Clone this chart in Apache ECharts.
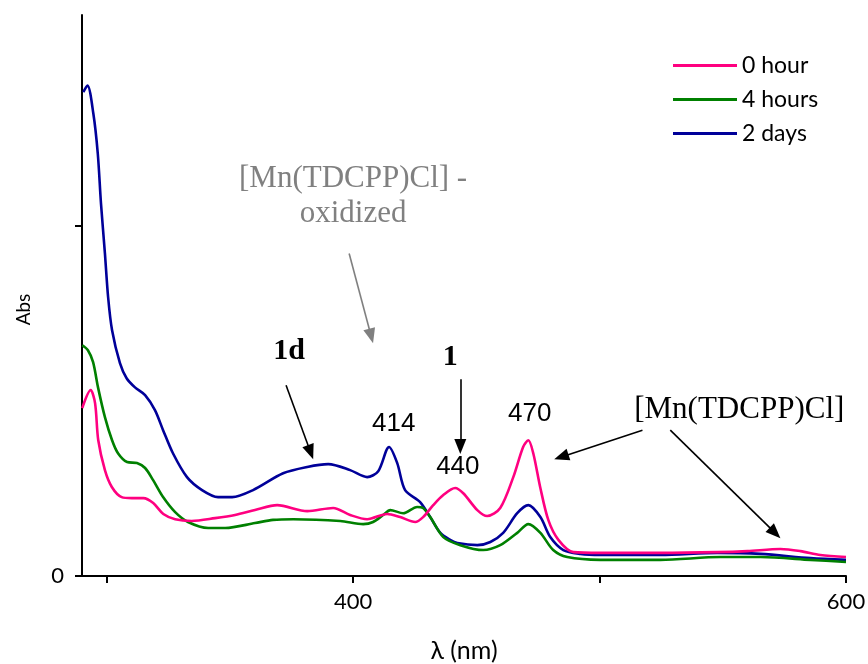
<!DOCTYPE html>
<html>
<head>
<meta charset="utf-8">
<script src="https://cdn.jsdelivr.net/npm/echarts@6/dist/echarts.min.js"></script>
<style>
  html, body { margin: 0; padding: 0; background: #fff; }
  #chart { width: 868px; height: 664px; }
</style>
</head>
<body>
<div id="chart"></div>
<script>
// UV-Vis spectra: wavelength (nm) and absorbance for each time point
const wl0h = [290.1, 293.5, 295.3, 296.6, 299.3, 302.1, 306.1, 310.2, 314.9, 318.9, 323.0, 327.8, 334.5, 344.0, 352.1, 360.2, 369.2, 381.4, 391.9, 398.8, 405.7, 413.8, 419.1, 425.2, 428.4, 432.5, 436.6, 441.4, 444.7, 450.4, 454.4, 459.7, 465.0, 469.0, 471.1, 473.1, 475.9, 479.2, 483.3, 489.4, 500.3, 524.7, 547.8, 560.0, 573.4, 581.5, 589.6, 600];
const abs0h = [0.479, 0.530, 0.493, 0.387, 0.302, 0.254, 0.225, 0.222, 0.222, 0.208, 0.177, 0.162, 0.157, 0.165, 0.174, 0.188, 0.202, 0.185, 0.194, 0.174, 0.162, 0.177, 0.168, 0.154, 0.168, 0.202, 0.231, 0.251, 0.236, 0.188, 0.171, 0.194, 0.282, 0.368, 0.387, 0.350, 0.254, 0.160, 0.103, 0.068, 0.066, 0.066, 0.068, 0.071, 0.077, 0.071, 0.060, 0.054];

const wl4h = [290.1, 292.4, 294.5, 296.5, 299.3, 302.2, 304.6, 308.3, 312.3, 315.6, 318.8, 322.9, 327.8, 333.0, 341.2, 348.1, 360.2, 367.5, 375.7, 394.8, 404.1, 408.1, 412.2, 415.1, 420.3, 426.0, 428.4, 431.3, 436.6, 443.5, 452.8, 459.7, 466.6, 471.1, 476.0, 481.2, 486.9, 500.3, 524.7, 549.0, 565.3, 585.6, 600];
const abs4h = [0.658, 0.644, 0.610, 0.538, 0.453, 0.387, 0.350, 0.325, 0.322, 0.308, 0.274, 0.225, 0.182, 0.154, 0.137, 0.137, 0.151, 0.160, 0.162, 0.157, 0.148, 0.154, 0.174, 0.188, 0.179, 0.197, 0.194, 0.168, 0.111, 0.088, 0.074, 0.088, 0.123, 0.148, 0.123, 0.074, 0.054, 0.046, 0.046, 0.054, 0.054, 0.046, 0.040];

const wl2d = [290.5, 292.2, 294.6, 296.4, 297.7, 299.3, 300.6, 302.2, 305.4, 308.1, 311.5, 315.6, 319.6, 322.9, 326.9, 332.6, 338.7, 345.2, 350.9, 359.4, 371.6, 381.4, 389.9, 398.8, 405.7, 410.2, 414.6, 417.9, 421.1, 427.2, 431.3, 435.4, 439.4, 442.3, 450.4, 455.7, 460.9, 466.6, 471.1, 476.0, 480.0, 485.3, 492.2, 500.3, 524.7, 547.8, 565.3, 585.6, 600];
const abs2d = [1.380, 1.399, 1.319, 1.205, 1.063, 0.920, 0.795, 0.701, 0.607, 0.564, 0.538, 0.516, 0.473, 0.416, 0.350, 0.282, 0.245, 0.225, 0.225, 0.245, 0.293, 0.311, 0.319, 0.302, 0.282, 0.299, 0.368, 0.322, 0.245, 0.211, 0.168, 0.123, 0.103, 0.094, 0.088, 0.097, 0.123, 0.179, 0.202, 0.168, 0.111, 0.074, 0.063, 0.060, 0.060, 0.066, 0.063, 0.051, 0.046];

const seriesNames = ['0 hour', '4 hours', '2 days'];
const seriesColors = ['#FF0080', '#008000', '#000099'];

// axis ticks and labels
const xTicks = [300, 400, 500, 600];
const xLabels = [400, 600];
const yTicks = [0, 1];
const yLabels = [0];

// annotation arrows: [tail, tip] in (nm, Abs)
const arrows = [
  { from: [398.4, 0.920], to: [408.1, 0.664], color: '#808080' },
  { from: [372.8, 0.544], to: [383.8, 0.333], color: '#000000' },
  { from: [443.5, 0.561], to: [443.5, 0.348], color: '#000000' },
  { from: [517.4, 0.416], to: [481.6, 0.333], color: '#000000' },
  { from: [528.7, 0.416], to: [573.4, 0.108], color: '#000000' }
];

// annotation texts anchored at (nm, Abs)
const notes = [
  { at: [400.0, 1.083], text: '[Mn(TDCPP)Cl] -\noxidized', font: 'Liberation Serif', size: 31, color: '#808080', weight: 'normal', lh: 35 },
  { at: [374.0, 0.641], text: '1d', font: 'Liberation Serif', size: 30, color: '#000', weight: 'bold' },
  { at: [439.4, 0.624], text: '1', font: 'Liberation Serif', size: 30, color: '#000', weight: 'bold' },
  { at: [416.5, 0.433], text: '414', font: 'Liberation Sans', size: 26, color: '#000', weight: 'normal' },
  { at: [442.5, 0.311], text: '440', font: 'Liberation Sans', size: 26, color: '#000', weight: 'normal' },
  { at: [471.7, 0.462], text: '470', font: 'Liberation Sans', size: 26, color: '#000', weight: 'normal' },
  { at: [556.7, 0.473], text: '[Mn(TDCPP)Cl]', font: 'Liberation Serif', size: 31, color: '#000', weight: 'normal' }
];

const ARROW_HEAD = [12, 15];

function pairs(xs, ys) {
  return xs.map((x, i) => [x, ys[i]]);
}

const spectra = [pairs(wl0h, abs0h), pairs(wl4h, abs4h), pairs(wl2d, abs2d)];

const chart = echarts.init(document.getElementById('chart'), null, { renderer: 'canvas' });

const lineSeries = spectra.map((d, i) => ({
  name: seriesNames[i],
  type: 'line',
  data: d,
  smooth: 0.3,
  symbol: 'none',
  lineStyle: { color: seriesColors[i], width: 2.6 },
  itemStyle: { color: seriesColors[i] },
  z: 3 - i
}));

function arrowLines(list) {
  return list.map(a => [
    { coord: a.from, lineStyle: { color: a.color, width: 1.6, type: 'solid' }, itemStyle: { color: a.color } },
    { coord: a.to }
  ]);
}

const annotationSeries = {
  name: 'annotations',
  type: 'line',
  data: [],
  symbol: 'none',
  silent: true,
  z: 5,
  markLine: {
    silent: true,
    symbol: ['none', 'triangle'],
    symbolSize: ARROW_HEAD,
    label: { show: false },
    data: arrowLines(arrows)
  },
  markPoint: {
    silent: true,
    symbol: 'circle',
    symbolSize: 0,
    itemStyle: { color: 'transparent' },
    data: notes.map(n => ({
      coord: n.at,
      value: 0,
      label: {
        show: true,
        position: 'inside',
        formatter: n.text,
        fontFamily: n.font,
        fontSize: n.size,
        fontWeight: n.weight,
        color: n.color,
        align: 'center',
        verticalAlign: 'middle',
        lineHeight: n.lh || n.size
      }
    }))
  }
};

chart.setOption({
  animation: false,
  backgroundColor: '#ffffff',
  grid: { left: 82, right: 22, top: 15, bottom: 88, containLabel: false, outerBoundsMode: 'none' },
  legend: {
    data: seriesNames,
    orient: 'vertical',
    left: 673,
    top: 54,
    padding: 0,
    icon: 'rect',
    itemWidth: 64,
    itemHeight: 3,
    itemGap: 11,
    textStyle: { fontFamily: 'Lato', fontSize: 23, color: '#000' },
    selectedMode: false
  },
  xAxis: {
    type: 'value',
    min: 290,
    max: 600,
    name: 'λ (nm)',
    nameLocation: 'middle',
    nameGap: 62,
    nameTextStyle: { fontFamily: 'Lato', fontSize: 25, color: '#000' },
    splitLine: { show: false },
    axisLine: { show: true, onZero: false, lineStyle: { color: '#000', width: 2 } },
    axisTick: { show: true, inside: false, length: 7, lineStyle: { color: '#000', width: 2 }, customValues: xTicks },
    axisLabel: { show: true, margin: 15, fontFamily: 'Lato', fontSize: 22, color: '#000', customValues: xLabels }
  },
  yAxis: {
    type: 'value',
    min: 0,
    max: 1.6,
    name: 'Abs',
    nameLocation: 'middle',
    nameRotate: 90,
    nameGap: 49,
    nameTextStyle: { fontFamily: 'Lato', fontSize: 19, color: '#000', padding: [0, 28, 0, 0] },
    splitLine: { show: false },
    axisLine: { show: true, onZero: false, lineStyle: { color: '#000', width: 2 } },
    axisTick: { show: true, inside: false, length: 7, lineStyle: { color: '#000', width: 2 }, customValues: yTicks },
    axisLabel: { show: true, margin: 18, fontFamily: 'Lato', fontSize: 22, color: '#000', customValues: yLabels }
  },
  series: lineSeries.concat([annotationSeries])
});

// Pull each arrow end back by half a head length so the triangle's point lands on the tip.
const finder = { xAxisIndex: 0, yAxisIndex: 0 };
const trimmed = arrows.map(a => {
  const p0 = chart.convertToPixel(finder, a.from);
  const p1 = chart.convertToPixel(finder, a.to);
  const dx = p1[0] - p0[0], dy = p1[1] - p0[1];
  const len = Math.hypot(dx, dy);
  const back = ARROW_HEAD[1] / 2;
  const end = [p1[0] - dx / len * back, p1[1] - dy / len * back];
  return Object.assign({}, a, { to: chart.convertFromPixel(finder, end) });
});
chart.setOption({ series: [{ name: 'annotations', markLine: { data: arrowLines(trimmed) } }] });
</script>
</body>
</html>
